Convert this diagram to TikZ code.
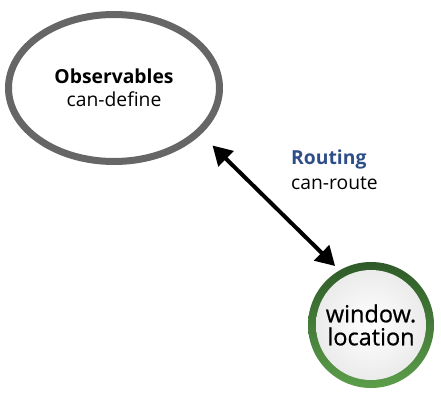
\documentclass[tikz,border=0pt]{standalone}
\usepackage{fontspec}
\setmainfont{Open Sans}
\newfontfamily\heavyish{Open Sans}[FakeBold=0.7]
\usepackage{tikz}
\usepackage{xcolor}
\usetikzlibrary{
    arrows.meta,
    shapes,
    calc
}
\definecolor{routeblue}{RGB}{46,78,138}
\definecolor{ringdark}{RGB}{46,90,40}
\definecolor{ringlight}{RGB}{92,158,74}

\begin{document}
\begin{tikzpicture}[x=1pt, y=-1pt,
    bubble/.style={ellipse, draw=black!60, line width=7pt, minimum width=211pt, minimum height=147pt, align=center, font=\fontsize{19.3}{23.5}\selectfont},
    target/.style={circle, minimum size=126pt, top color=ringdark, bottom color=ringlight, align=center, font=\heavyish\fontsize{23.5}{23}\selectfont,
        path picture={\shade[inner color=white, outer color=black!9] (path picture bounding box.center) circle (55pt);}},
    edgetext/.style={inner sep=0pt, anchor=west, align=left, font=\fontsize{19.3}{25}\selectfont},
    routearrow/.style={{Triangle[length=19pt, width=21pt]}-{Triangle[length=19pt, width=21pt]}, line width=4pt, shorten <=16pt, shorten >=6pt}
]
                        \useasboundingbox (0, 0) rectangle (441, 401);
                        \node[bubble] (observables) at (114, 88) {\textbf{Observables}\\can-define};
                        \node[target] (location) at (371, 325) {window.\\location};
                        \draw[routearrow] (observables.-28) -- (location.120);
                        \node[edgetext] (routing) at (291, 170) {\textbf{\color{routeblue}Routing}\\can-route};
                    \end{tikzpicture}
\end{document}
